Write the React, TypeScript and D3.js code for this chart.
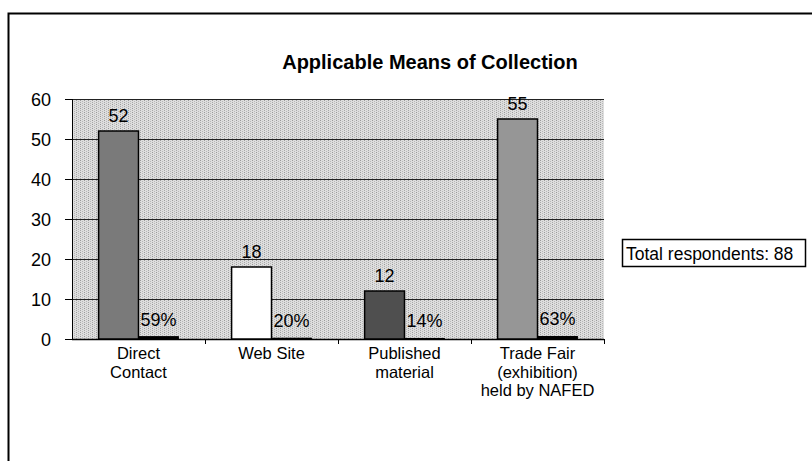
import React from "react";
import * as d3 from "d3";

const categories = ["Direct Contact", "Web Site", "Published material", "Trade Fair (exhibition) held by NAFED"];
const categoryLines = [["Direct", "Contact"], ["Web Site"], ["Published", "material"], ["Trade Fair", "(exhibition)", "held by NAFED"]];
const counts = [52, 18, 12, 55];
const percents = [0.59, 0.2, 0.14, 0.63];
const percentLabels = ["59%", "20%", "14%", "63%"];
const barColors = ["#7a7a7a", "#ffffff", "#4f4f4f", "#969696"];
const yTicks = [0, 10, 20, 30, 40, 50, 60];
const title = "Applicable Means of Collection";
const note = "Total respondents: 88";

export default function App() {
  const W = 812, H = 461;
  const left = 72, right = 604, top = 99, bottom = 339;
  const y = d3.scaleLinear().domain([0, 60]).range([bottom, top]);
  const x0 = d3.scaleBand<string>().domain(categories).range([left, right]).paddingInner(0.4).paddingOuter(0.2);
  const x1 = d3.scaleBand<string>().domain(["count", "pct"]).range([0, x0.bandwidth()]);
  const font = "'Liberation Sans', Arial, sans-serif";
  const step = x0.step();
  return (
    <svg width={W} height={H} style={{ position: "absolute", left: 0, top: 0, background: "#fff" }} fontFamily={font}>
      <defs>
        <pattern id="bgp" width="4" height="4" patternUnits="userSpaceOnUse">
          <rect width="4" height="4" fill="#dedede" />
          <rect x="0" y="0" width="1" height="1" fill="#9a9a9a" />
          <rect x="0" y="2" width="1" height="1" fill="#a8a8a8" />
          <rect x="2" y="1" width="1" height="1" fill="#b8b8b8" />
          <rect x="2" y="3" width="1" height="1" fill="#b8b8b8" />
        </pattern>
      </defs>
      <rect x={8.5} y={13.5} width={900} height={600} fill="#fff" stroke="#000" strokeWidth={2} />
      <rect x={left} y={top} width={right - left} height={bottom - top} fill="url(#bgp)" />
      {yTicks.map((t) => (
        <g key={t}>
          <line x1={left} x2={right} y1={Math.round(y(t)) + 0.5} y2={Math.round(y(t)) + 0.5} stroke="#222" strokeWidth={1} />
          <line x1={left - 7} x2={left} y1={Math.round(y(t)) + 0.5} y2={Math.round(y(t)) + 0.5} stroke="#000" />
          <text x={51} y={y(t) + 6.5} fontSize={18} textAnchor="end" fill="#000">{t}</text>
        </g>
      ))}
      <line x1={left + 0.5} x2={left + 0.5} y1={top} y2={bottom + 1} stroke="#000" />
      {categories.map((c, i) => (
        <line key={c} x1={left + step * (i + 1) + 0.5} x2={left + step * (i + 1) + 0.5} y1={bottom} y2={bottom + 5} stroke="#000" />
      ))}
      <line x1={left} x2={right} y1={bottom + 0.5} y2={bottom + 0.5} stroke="#000" strokeWidth={1.5} />
      {categories.map((c, i) => {
        const bx = (x0(c) as number) + (x1("count") as number);
        const px = (x0(c) as number) + (x1("pct") as number);
        const w = x1.bandwidth();
        return (
          <g key={c}>
            <rect x={bx} y={y(counts[i])} width={w} height={y(0) - y(counts[i])} fill={barColors[i]} stroke="#000" strokeWidth={1.5} />
            <rect x={px} y={y(percents[i])} width={w} height={y(0) - y(percents[i])} fill="#000" stroke="#000" strokeWidth={1} />
            <text x={bx + w / 2} y={y(counts[i]) - 9} fontSize={18} textAnchor="middle" fill="#000">{counts[i]}</text>
            <text x={px + w / 2} y={y(percents[i]) - 11} fontSize={18} textAnchor="middle" fill="#000">{percentLabels[i]}</text>
            {categoryLines[i].map((ln, j) => (
              <text key={j} x={(x0(c) as number) + x0.bandwidth() / 2} y={359 + j * 18.5} fontSize={16.5} textAnchor="middle" fill="#000">{ln}</text>
            ))}
          </g>
        );
      })}
      <text x={430} y={69} fontSize={20} fontWeight="bold" textAnchor="middle" fill="#000">{title}</text>
      <rect x={622.5} y={239.5} width={183} height={27} fill="#fff" stroke="#000" strokeWidth={1.5} />
      <text x={626} y={259.5} fontSize={17.5} fill="#000">{note}</text>
    </svg>
  );
}
